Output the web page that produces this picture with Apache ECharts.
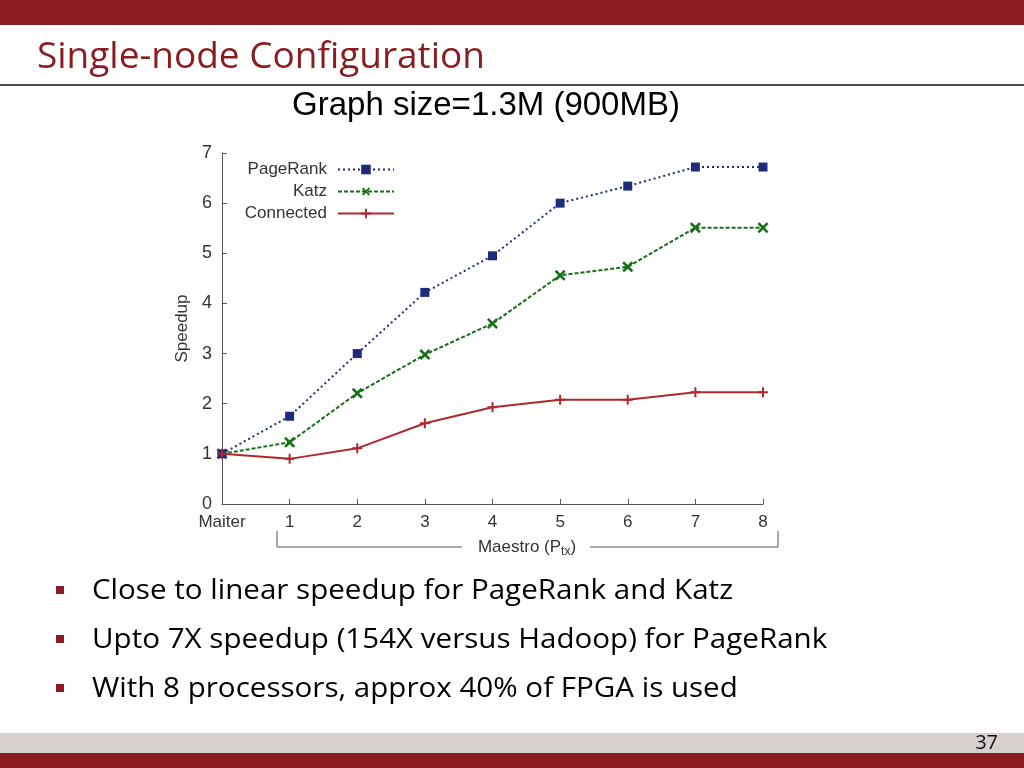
<!DOCTYPE html>
<html><head><meta charset="utf-8">
<script src="https://cdn.jsdelivr.net/npm/echarts@6/dist/echarts.min.js"></script>
<style>html,body{margin:0;padding:0;background:#fff}#c{width:1024px;height:768px}</style>
</head><body><div id="c"></div>
<script>
const categories = ['Maiter','1','2','3','4','5','6','7','8'];
const pageRank = [1.0, 1.75, 3.0, 4.22, 4.95, 6.0, 6.34, 6.72, 6.72];
const katz = [1.0, 1.23, 2.21, 2.98, 3.6, 4.56, 4.73, 5.51, 5.51];
const connected = [1.0, 0.9, 1.11, 1.61, 1.93, 2.08, 2.08, 2.23, 2.23];
const yMin = 0, yMax = 7, yStep = 1;
const slideTitle = 'Single-node Configuration';
const chartTitle = 'Graph size=1.3M (900MB)';
const bullets = [
  'Close to linear speedup for PageRank and Katz',
  'Upto 7X speedup (154X versus Hadoop) for PageRank',
  'With 8 processors, approx 40% of FPGA is used'
];
const pageNumber = '37';

const DARK_RED = '#8a1c1f';
const BODY_FONT = '"Open Sans", Lato, sans-serif';
const PLOT_FONT = '"Liberation Sans", Arial, Helvetica, sans-serif';
const PLUS = 'path://M4,0H6V4H10V6H6V10H4V6H0V4H4Z';

const mctx = document.createElement('canvas').getContext('2d');
function fitScale(text, font, target) {
  mctx.font = font;
  const w = mctx.measureText(text).width;
  return w > 0 ? target / w : 1;
}

const chart = echarts.init(document.getElementById('c'), null, {renderer: 'canvas'});

const titleFont = '36px ' + BODY_FONT;
const bulletFont = '28px ' + BODY_FONT;
const titleScale = fitScale(slideTitle, titleFont, 448);
const bulletScale = fitScale(bullets[0], bulletFont, 641);

const graphics = [
  {type: 'rect', shape: {x: 0, y: 0, width: 1024, height: 25}, style: {fill: DARK_RED}, silent: true},
  {type: 'text', x: 37, y: 58, scaleX: titleScale, style: {text: slideTitle, font: titleFont, fill: DARK_RED, verticalAlign: 'middle'}},
  {type: 'line', shape: {x1: 0, y1: 85, x2: 1024, y2: 85}, style: {stroke: '#111', lineWidth: 1.5}},
  {type: 'text', x: 486, y: 106, style: {text: chartTitle, font: '33px ' + PLOT_FONT, fill: '#000', align: 'center', verticalAlign: 'middle'}},
  {type: 'polyline', shape: {points: [[277, 531], [277, 547], [462, 547]]}, style: {stroke: '#555', lineWidth: 1, fill: null}},
  {type: 'polyline', shape: {points: [[590, 547], [778, 547], [778, 531]]}, style: {stroke: '#555', lineWidth: 1, fill: null}},
  {type: 'text', x: 527, y: 547, style: {
    text: '{a|Maestro (P}{b|tx}{a|)}',
    align: 'center', verticalAlign: 'middle',
    rich: {
      a: {fontSize: 17, fontFamily: PLOT_FONT, fill: '#333', color: '#333', lineHeight: 20},
      b: {fontSize: 12, fontFamily: PLOT_FONT, fill: '#333', color: '#333', lineHeight: 20, padding: [10, 0, 0, 0]}
    }
  }},
  {type: 'rect', shape: {x: 0, y: 733, width: 1024, height: 20}, style: {fill: '#d8cfcf'}},
  {type: 'rect', shape: {x: 0, y: 753, width: 1024, height: 15}, style: {fill: DARK_RED}},
  {type: 'text', x: 998, y: 743, style: {text: pageNumber, font: '20px ' + BODY_FONT, fill: '#111', align: 'right', verticalAlign: 'middle'}}
];
const bulletY = [590, 639, 688];
bullets.forEach(function (b, i) {
  graphics.push({type: 'rect', shape: {x: 56, y: bulletY[i] - 4, width: 8, height: 8}, style: {fill: '#8b1a2a'}});
  graphics.push({type: 'text', x: 92, y: bulletY[i] + 1, scaleX: bulletScale, style: {text: b, font: bulletFont, fill: '#000', verticalAlign: 'middle'}});
});

const option = {
  animation: false,
  backgroundColor: '#fff',
  textStyle: {fontFamily: PLOT_FONT},
  grid: {left: 222, right: 261, top: 153, bottom: 264, containLabel: false},
  legend: {
    orient: 'vertical', align: 'right',
    right: 629, top: 161, padding: 0,
    itemWidth: 56, itemHeight: 12, itemGap: 5,
    textStyle: {fontSize: 17, color: '#333', fontFamily: PLOT_FONT, lineHeight: 16, padding: [0, 6, 0, 0]},
    data: ['PageRank', 'Katz', 'Connected']
  },
  xAxis: {
    type: 'category', data: categories, boundaryGap: false,
    axisLine: {lineStyle: {color: '#555', width: 1}},
    axisTick: {inside: true, length: 5, alignWithLabel: true, lineStyle: {color: '#555'}},
    axisLabel: {fontSize: 17, color: '#333', margin: 10, fontFamily: PLOT_FONT},
    splitLine: {show: false}
  },
  yAxis: {
    type: 'value', min: yMin, max: yMax, interval: yStep,
    name: 'Speedup', nameLocation: 'middle', nameGap: 27, nameRotate: 90,
    nameTextStyle: {fontSize: 17, color: '#333', fontFamily: PLOT_FONT},
    axisLine: {show: true, lineStyle: {color: '#555', width: 1}},
    axisTick: {show: true, inside: true, length: 5, lineStyle: {color: '#555'}},
    axisLabel: {fontSize: 18, color: '#333', margin: 10, fontFamily: PLOT_FONT},
    splitLine: {show: false}
  },
  series: [
    {name: 'PageRank', type: 'line', data: pageRank, symbol: 'rect', symbolSize: 9,
      itemStyle: {color: '#1f2a7c'}, lineStyle: {color: '#1f2a7c', width: 2, type: [2, 3]}, z: 3},
    {name: 'Katz', type: 'line', data: katz, symbol: PLUS, symbolSize: 13, symbolRotate: 45,
      itemStyle: {color: '#177017'}, lineStyle: {color: '#177017', width: 2, type: [4, 2]}, z: 2},
    {name: 'Connected', type: 'line', data: connected, symbol: PLUS, symbolSize: 10,
      itemStyle: {color: '#b0282e'}, lineStyle: {color: '#b0282e', width: 2, type: 'solid'}, z: 4}
  ],
  graphic: graphics
};
chart.setOption(option);
</script></body></html>
